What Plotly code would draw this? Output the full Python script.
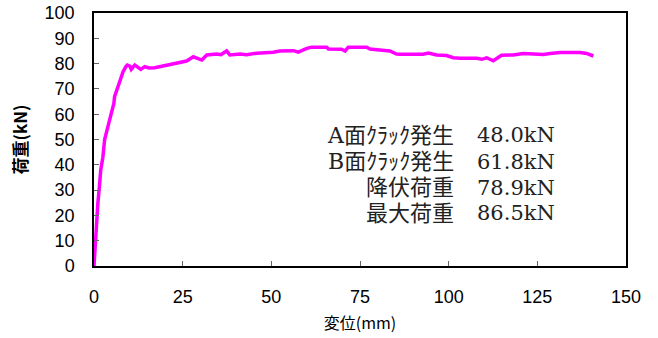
import plotly.graph_objects as go

# Displacement (mm) and load (kN)
disp = [0, 0.2, 0.4, 0.65, 1.1, 1.5, 1.9, 2.5, 3.0, 3.9, 4.9, 5.4, 5.6, 5.8, 6.5, 7.2, 8.2, 9.0, 9.4,
        10.1, 10.5, 11.0, 11.5, 12.4, 13.2, 14.3, 15.5, 17.1, 18.5, 19.9, 21.0, 22.7, 24.2, 25.6, 26.1,
        28.0, 29.9, 30.4, 31.8, 34.6, 35.8, 37.4, 38.3, 41.2, 43.0, 45.9, 50.5, 52.4, 56.2, 57.6, 60.0,
        61.4, 65.6, 66.1, 69.8, 70.8, 71.7, 76.9, 77.8, 80.6, 83.4, 85.3, 86.3, 92.8, 94.3, 96.6, 99.4,
        101.3, 103.2, 107.9, 109.3, 110.7, 112.6, 114.9, 118.2, 121.0, 124.8, 126.7, 128.6, 131.4,
        137.0, 138.9, 140.8]
load = [0, 5, 10.3, 18, 25, 31, 38, 43, 50, 55, 60.3, 62, 64.3, 66.9, 70, 73.5, 76.8, 78.8, 79.4,
        79, 77.7, 78.6, 79.4, 78.5, 77.7, 78.8, 78.3, 78.4, 78.8, 79.4, 79.6, 80.1, 80.4, 80.8, 81,
        82.7, 81.8, 81.4, 83.4, 83.8, 83.5, 85.0, 83.4, 83.8, 83.5, 84.1, 84.5, 85, 85.1, 84.5, 86,
        86.5, 86.5, 85.8, 85.7, 85, 86.5, 86.5, 85.8, 85.3, 85, 83.8, 83.7, 83.7, 84.2, 83.4, 83.2,
        82.3, 82.1, 82.1, 81.7, 82.3, 81.1, 83.3, 83.4, 84, 83.6, 83.6, 84, 84.4,
        84.4, 84, 83]

x_ticks = [0, 25, 50, 75, 100, 125, 150]
y_ticks = [0, 10, 20, 30, 40, 50, 60, 70, 80, 90, 100]

note_labels = ["A面ｸﾗｯｸ発生", "B面ｸﾗｯｸ発生", "降伏荷重", "最大荷重"]
note_values = ["48.0kN", "61.8kN", "78.9kN", "86.5kN"]
note_y = [51.6, 41.3, 31.0, 20.8]

fig = go.Figure()
fig.add_trace(go.Scatter(x=disp, y=load, mode="lines",
                         line=dict(color="#FF00FF", width=3.5), showlegend=False))

serif = "DejaVu Serif, Noto Sans CJK JP, serif"
for lab, val, yy in zip(note_labels, note_values, note_y):
    fig.add_annotation(x=102.0, y=yy, text=lab, showarrow=False, xanchor="right", yanchor="middle",
                       font=dict(family=serif, size=22, color="#222"))
    fig.add_annotation(x=130.5, y=yy, text=val, showarrow=False, xanchor="right", yanchor="middle",
                       font=dict(family=serif, size=21, color="#222"))

axis_common = dict(showline=True, mirror=True, linecolor="black", linewidth=1.5,
                   ticks="inside", ticklen=5, tickcolor="#666", tickwidth=1,
                   showgrid=False, zeroline=False, automargin=False,
                   ticklabeloverflow="allow",
                   tickfont=dict(family="Liberation Sans, Noto Sans CJK JP", size=18, color="#000"))

fig.update_xaxes(range=[0, 150], tickvals=x_ticks, ticktext=[str(v) for v in x_ticks],
                 ticklabelstandoff=14,
                 title=dict(text="変位(mm)", standoff=11,
                            font=dict(family="Noto Sans CJK JP", size=16, color="#000")),
                 **axis_common)
fig.update_yaxes(range=[0, 100], tickvals=y_ticks, ticktext=[str(v) for v in y_ticks],
                 ticklabelstandoff=14,
                 title=dict(text="荷重(kN)", standoff=13,
                            font=dict(family="Noto Sans CJK JP", size=17, color="#000",
                                      weight="bold")),
                 **axis_common)

fig.update_layout(width=658, height=338, margin=dict(l=94, r=32, t=13, b=72),
                  paper_bgcolor="white", plot_bgcolor="white")

# remove the default 8px page margin so the figure fills the window exactly
fig.write_html("out.html", config={"displayModeBar": False},
               post_script="document.body.style.margin='0px';document.body.style.overflow='hidden';")
